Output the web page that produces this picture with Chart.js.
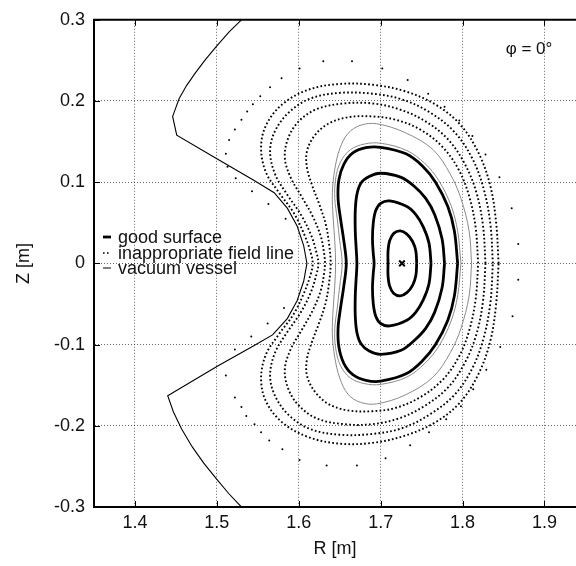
<!DOCTYPE html>
<html>
<head>
<meta charset="utf-8">
<title>Poincaré plot, φ = 0°</title>
<style>
    body { margin: 0; background: #fff; }
    #chart-container { width: 576px; height: 566px; }
</style>
</head>
<body>
<div id="chart-container"><canvas id="myChart"></canvas></div>
<script src="https://cdn.jsdelivr.net/npm/chart.js@4"></script>
<script>
// axis ticks
const xTickValues = [1.4, 1.5, 1.6, 1.7, 1.8, 1.9];
const yTickValues = [-0.3, -0.2, -0.1, 0, 0.1, 0.2, 0.3];

// vacuum vessel [R, Z]
const vessel = [
    [1.530, 0.300], [1.515, 0.285], [1.500, 0.268], [1.486, 0.251], [1.474, 0.235],
    [1.463, 0.219], [1.454, 0.203], [1.446, 0.181], [1.451, 0.158], [1.500, 0.129],
    [1.544, 0.103], [1.570, 0.087], [1.586, 0.068], [1.598, 0.046], [1.606, 0.022],
    [1.610, 0.000], [1.606, -0.022], [1.598, -0.046], [1.586, -0.068], [1.568, -0.088],
    [1.544, -0.102], [1.500, -0.127], [1.440, -0.163], [1.447, -0.183], [1.457, -0.204],
    [1.470, -0.226], [1.484, -0.246], [1.500, -0.266], [1.515, -0.284], [1.530, -0.300]
];

// good surfaces (thick), innermost first
const surfaceA = [
    [1.744, 0.000], [1.743, 0.015], [1.739, 0.027], [1.732, 0.036], [1.724, 0.040],
    [1.716, 0.037], [1.711, 0.028], [1.709, 0.015], [1.709, 0.000],
    [1.709, -0.015], [1.711, -0.028], [1.716, -0.037], [1.724, -0.040], [1.732, -0.036],
    [1.739, -0.027], [1.743, -0.015], [1.744, 0.000]
];
const surfaceB = [
    [1.7615, 0.000], [1.759, 0.025], [1.752, 0.045], [1.743, 0.060], [1.732, 0.070],
    [1.711, 0.077], [1.700, 0.074], [1.694, 0.065], [1.691, 0.050], [1.690, 0.030],
    [1.691, 0.012], [1.692, 0.000], [1.691, -0.012], [1.690, -0.030], [1.691, -0.050],
    [1.694, -0.065], [1.700, -0.074], [1.711, -0.077], [1.732, -0.070], [1.743, -0.060],
    [1.752, -0.045], [1.759, -0.025], [1.7615, 0.000]
];
const surfaceC = [
    [1.778, 0.000], [1.775, 0.030], [1.766, 0.060], [1.755, 0.080], [1.741, 0.095],
    [1.725, 0.106], [1.700, 0.111], [1.686, 0.107], [1.676, 0.099], [1.671, 0.085],
    [1.669, 0.065], [1.669, 0.040], [1.670, 0.020], [1.671, 0.000], [1.670, -0.020],
    [1.669, -0.040], [1.669, -0.065], [1.671, -0.085], [1.676, -0.099], [1.686, -0.108],
    [1.700, -0.112], [1.725, -0.107], [1.741, -0.095], [1.755, -0.080], [1.766, -0.060],
    [1.775, -0.030], [1.778, 0.000]
];
const surfaceD = [
    [1.794, 0.000], [1.790, 0.040], [1.782, 0.070], [1.767, 0.100], [1.751, 0.120],
    [1.731, 0.135], [1.700, 0.143], [1.682, 0.1425], [1.666, 0.136], [1.655, 0.122],
    [1.649, 0.103], [1.648, 0.080], [1.651, 0.055], [1.655, 0.028], [1.658, 0.000],
    [1.655, -0.028], [1.651, -0.055], [1.648, -0.080], [1.649, -0.103], [1.655, -0.123],
    [1.666, -0.137], [1.682, -0.144], [1.700, -0.145], [1.731, -0.136], [1.751, -0.120],
    [1.767, -0.100], [1.782, -0.070], [1.790, -0.040], [1.794, 0.000]
];

// thin grey surfaces
const greyInner = [
    [1.798, 0.000], [1.794, 0.040], [1.786, 0.071], [1.771, 0.102], [1.754, 0.123],
    [1.732, 0.139], [1.700, 0.148], [1.680, 0.147], [1.663, 0.140], [1.651, 0.125],
    [1.645, 0.104], [1.644, 0.080], [1.647, 0.055], [1.650, 0.028], [1.653, 0.000],
    [1.650, -0.028], [1.647, -0.055], [1.644, -0.080], [1.645, -0.104], [1.651, -0.126],
    [1.663, -0.141], [1.680, -0.148], [1.700, -0.149], [1.732, -0.140], [1.754, -0.123],
    [1.771, -0.102], [1.786, -0.071], [1.794, -0.040], [1.798, 0.000]
];
const greyOuter = [
    [1.811, 0.000], [1.808, 0.040], [1.798, 0.080], [1.785, 0.110], [1.764, 0.140],
    [1.730, 0.161], [1.695, 0.172], [1.675, 0.170], [1.660, 0.160], [1.650, 0.141],
    [1.644, 0.116], [1.641, 0.087], [1.642, 0.056], [1.644, 0.027], [1.645, 0.000],
    [1.644, -0.027], [1.642, -0.056], [1.641, -0.087], [1.644, -0.116], [1.650, -0.141],
    [1.660, -0.161], [1.675, -0.171], [1.695, -0.173], [1.730, -0.162], [1.764, -0.140],
    [1.785, -0.110], [1.798, -0.080], [1.808, -0.040], [1.811, 0.000]
];

// inappropriate field lines (dotted), innermost first
const lineD4 = [
    [1.819, 0.000], [1.816, 0.044], [1.808, 0.083], [1.795, 0.116], [1.775, 0.144],
    [1.748, 0.165], [1.718, 0.177], [1.690, 0.181], [1.660, 0.180], [1.636, 0.172],
    [1.619, 0.157], [1.610, 0.138], [1.610, 0.118], [1.616, 0.097], [1.625, 0.073],
    [1.633, 0.048], [1.637, 0.024], [1.639, 0.000], [1.637, -0.024], [1.633, -0.048],
    [1.625, -0.073], [1.616, -0.097], [1.610, -0.118], [1.610, -0.138], [1.619, -0.157],
    [1.636, -0.173], [1.660, -0.181], [1.690, -0.182], [1.718, -0.178], [1.748, -0.165],
    [1.775, -0.144], [1.795, -0.116], [1.808, -0.083], [1.816, -0.044], [1.819, 0.000]
];
const lineD3 = [
    [1.828, 0.000], [1.825, 0.046], [1.817, 0.087], [1.803, 0.122], [1.782, 0.153],
    [1.753, 0.176], [1.722, 0.190], [1.690, 0.197], [1.655, 0.197], [1.622, 0.190],
    [1.600, 0.175], [1.587, 0.154], [1.583, 0.130], [1.590, 0.106], [1.603, 0.083],
    [1.617, 0.058], [1.627, 0.033], [1.631, 0.012], [1.632, 0.000], [1.631, -0.012],
    [1.627, -0.033], [1.617, -0.058], [1.603, -0.083], [1.590, -0.106], [1.583, -0.130],
    [1.587, -0.154], [1.600, -0.175], [1.622, -0.191], [1.655, -0.198], [1.690, -0.198],
    [1.722, -0.191], [1.753, -0.176], [1.782, -0.153], [1.803, -0.122], [1.817, -0.087],
    [1.825, -0.046], [1.828, 0.000]
];
const lineD2 = [
    [1.837, 0.000], [1.834, 0.048], [1.826, 0.091], [1.812, 0.129], [1.790, 0.162],
    [1.760, 0.186], [1.726, 0.202], [1.690, 0.209], [1.650, 0.210], [1.614, 0.203],
    [1.588, 0.186], [1.571, 0.163], [1.565, 0.138], [1.571, 0.110], [1.585, 0.086],
    [1.602, 0.061], [1.615, 0.035], [1.622, 0.012], [1.624, 0.000], [1.622, -0.012],
    [1.615, -0.035], [1.602, -0.061], [1.585, -0.086], [1.571, -0.110], [1.565, -0.138],
    [1.571, -0.163], [1.588, -0.187], [1.614, -0.204], [1.650, -0.211], [1.690, -0.210],
    [1.726, -0.203], [1.760, -0.186], [1.790, -0.162], [1.812, -0.129], [1.826, -0.091],
    [1.834, -0.048], [1.837, 0.000]
];
const lineD1 = [
    [1.844, 0.000], [1.841, 0.050], [1.834, 0.095], [1.820, 0.135], [1.798, 0.170],
    [1.768, 0.195], [1.730, 0.212], [1.690, 0.220], [1.650, 0.221], [1.612, 0.214],
    [1.580, 0.196], [1.560, 0.170], [1.554, 0.142], [1.560, 0.112], [1.576, 0.087],
    [1.594, 0.062], [1.607, 0.035], [1.615, 0.012], [1.617, 0.000], [1.615, -0.012],
    [1.607, -0.035], [1.594, -0.062], [1.576, -0.087], [1.560, -0.112], [1.554, -0.142],
    [1.560, -0.170], [1.580, -0.196], [1.612, -0.214], [1.650, -0.222], [1.690, -0.221],
    [1.730, -0.212], [1.768, -0.195], [1.798, -0.170], [1.820, -0.135], [1.834, -0.095],
    [1.841, -0.050], [1.844, 0.000]
];

// sparse outer points of the inappropriate field line
const outerPoints = [
    [1.543, 0.089], [1.523, 0.105], [1.513, 0.119], [1.511, 0.135], [1.515, 0.152],
    [1.522, 0.165], [1.530, 0.177], [1.537, 0.187], [1.544, 0.196], [1.553, 0.206],
    [1.565, 0.217], [1.579, 0.228], [1.601, 0.240], [1.630, 0.249], [1.665, 0.249],
    [1.702, 0.240], [1.733, 0.226], [1.758, 0.209], [1.778, 0.193], [1.796, 0.176],
    [1.812, 0.157], [1.828, 0.134], [1.845, 0.106], [1.860, 0.068], [1.868, 0.024],
    [1.868, -0.020], [1.861, -0.065], [1.846, -0.103], [1.829, -0.131], [1.813, -0.155],
    [1.798, -0.176], [1.780, -0.192], [1.759, -0.208], [1.736, -0.224], [1.706, -0.240],
    [1.671, -0.249], [1.634, -0.249], [1.601, -0.242], [1.580, -0.229], [1.564, -0.218],
    [1.554, -0.208], [1.546, -0.198], [1.536, -0.188], [1.530, -0.177], [1.522, -0.165],
    [1.511, -0.138], [1.522, -0.106], [1.542, -0.090],
    [1.563, 0.073], [1.584, 0.055], [1.582, -0.055], [1.562, -0.074]
];

// magnetic axis
const magneticAxis = [[1.726, 0.000]];

const toPts = arr => arr.map(p => ({ x: p[0], y: p[1] }));

Chart.defaults.font.family = "'Liberation Sans', Arial, sans-serif";
Chart.defaults.color = '#111';

function surface(data, label) {
    return { label, data: toPts(data), showLine: true, borderColor: '#000', borderWidth: 2.8,
             pointRadius: 0, tension: 0.35, fill: false };
}
function dotted(data, label) {
    return { label, data: toPts(data), showLine: true, borderColor: '#000', borderWidth: 1.9,
             borderDash: [1.7, 2.3], pointRadius: 0, tension: 0.35, fill: false };
}
function grey(data) {
    return { label: '', data: toPts(data), showLine: true, borderColor: '#8a8a8a', borderWidth: 1,
             pointRadius: 0, tension: 0.35, fill: false };
}

// frame, inward ticks, legend and phi label
const decorations = {
    id: 'decorations',
    afterDraw(chart) {
        const { ctx, chartArea: a, scales } = chart;
        ctx.save();
        ctx.strokeStyle = '#000';
        ctx.lineWidth = 2;
        ctx.beginPath();
        ctx.moveTo(a.left - 1, a.top);
        ctx.lineTo(chart.width, a.top);
        ctx.stroke();

        ctx.lineWidth = 1;
        ctx.beginPath();
        xTickValues.forEach(v => {
            const px = Math.round(scales.x.getPixelForValue(v)) + 0.5;
            ctx.moveTo(px, a.top); ctx.lineTo(px, a.top + 6);
            ctx.moveTo(px, a.bottom); ctx.lineTo(px, a.bottom - 6);
        });
        yTickValues.forEach(v => {
            const py = Math.round(scales.y.getPixelForValue(v)) + 0.5;
            ctx.moveTo(a.left, py); ctx.lineTo(a.left + 6, py);
        });
        ctx.stroke();

        // legend
        const entries = [
            { text: 'good surface', width: 2.8, dash: [] },
            { text: 'inappropriate field line', width: 1.6, dash: [1.6, 2.4] },
            { text: 'vacuum vessel', width: 1, dash: [] }
        ];
        const ys = [237, 253, 268];
        ctx.font = "18px 'Liberation Sans', Arial, sans-serif";
        ctx.textBaseline = 'middle';
        ctx.fillStyle = '#111';
        entries.forEach((e, i) => {
            ctx.beginPath();
            ctx.setLineDash(e.dash);
            ctx.lineWidth = e.width;
            ctx.moveTo(103, ys[i]);
            ctx.lineTo(111, ys[i]);
            ctx.stroke();
            ctx.setLineDash([]);
            ctx.fillText(e.text, 118, ys[i] + 1);
        });

        ctx.font = "17px 'Liberation Sans', Arial, sans-serif";
        ctx.textAlign = 'center';
        ctx.fillText('φ = 0°', 529, 49);
        ctx.restore();
    }
};

const ctx = document.getElementById('myChart').getContext('2d');
const myChart = new Chart(ctx, {
    type: 'scatter',
    data: {
        datasets: [
            { label: 'vacuum vessel', data: toPts(vessel), showLine: true, borderColor: '#000',
              borderWidth: 1.1, pointRadius: 0, tension: 0, fill: false },
            { label: 'inappropriate field line', data: toPts(outerPoints), showLine: false,
              pointRadius: 1, pointBackgroundColor: '#000', pointBorderWidth: 0 },
            dotted(lineD1, 'inappropriate field line'),
            dotted(lineD2, 'inappropriate field line'),
            dotted(lineD3, 'inappropriate field line'),
            dotted(lineD4, 'inappropriate field line'),
            grey(greyOuter),
            grey(greyInner),
            surface(surfaceD, 'good surface'),
            surface(surfaceC, 'good surface'),
            surface(surfaceB, 'good surface'),
            surface(surfaceA, 'good surface'),
            { label: 'axis', data: toPts(magneticAxis), showLine: false, pointStyle: 'crossRot',
              pointRadius: 4, borderColor: '#000', pointBorderWidth: 2 }
        ]
    },
    options: {
        responsive: true,
        maintainAspectRatio: false,
        animation: false,
        layout: { autoPadding: false, padding: { top: 16, right: 0, left: 0, bottom: 0 } },
        plugins: { legend: { display: false }, tooltip: { enabled: false } },
        scales: {
            x: {
                type: 'linear',
                min: 1.35,
                max: 1.9385,
                afterBuildTicks: s => { s.ticks = xTickValues.map(v => ({ value: v })); },
                afterFit: s => { s.height = 59; },
                ticks: { font: { size: 18 }, padding: 5, color: '#111', callback: v => String(v) },
                grid: { color: 'rgba(0,0,0,0.6)', lineWidth: 1, drawTicks: false },
                border: { display: true, color: '#000', width: 2, dash: [1, 2] },
                title: { display: true, text: 'R [m]', font: { size: 18 }, color: '#111',
                         padding: { top: 0, bottom: 6 } }
            },
            y: {
                type: 'linear',
                min: -0.3,
                max: 0.3,
                afterBuildTicks: s => { s.ticks = yTickValues.map(v => ({ value: v })); },
                afterFit: s => { s.width = 94; },
                ticks: { font: { size: 18 }, padding: 9, color: '#111', callback: v => String(v) },
                grid: { color: 'rgba(0,0,0,0.6)', lineWidth: 1, drawTicks: false },
                border: { display: true, color: '#000', width: 2, dash: [1, 2] },
                title: { display: true, text: 'Z [m]', font: { size: 18 }, color: '#111',
                         padding: { top: 13, bottom: 0 } }
            }
        }
    },
    plugins: [decorations]
});
</script>
</body>
</html>
